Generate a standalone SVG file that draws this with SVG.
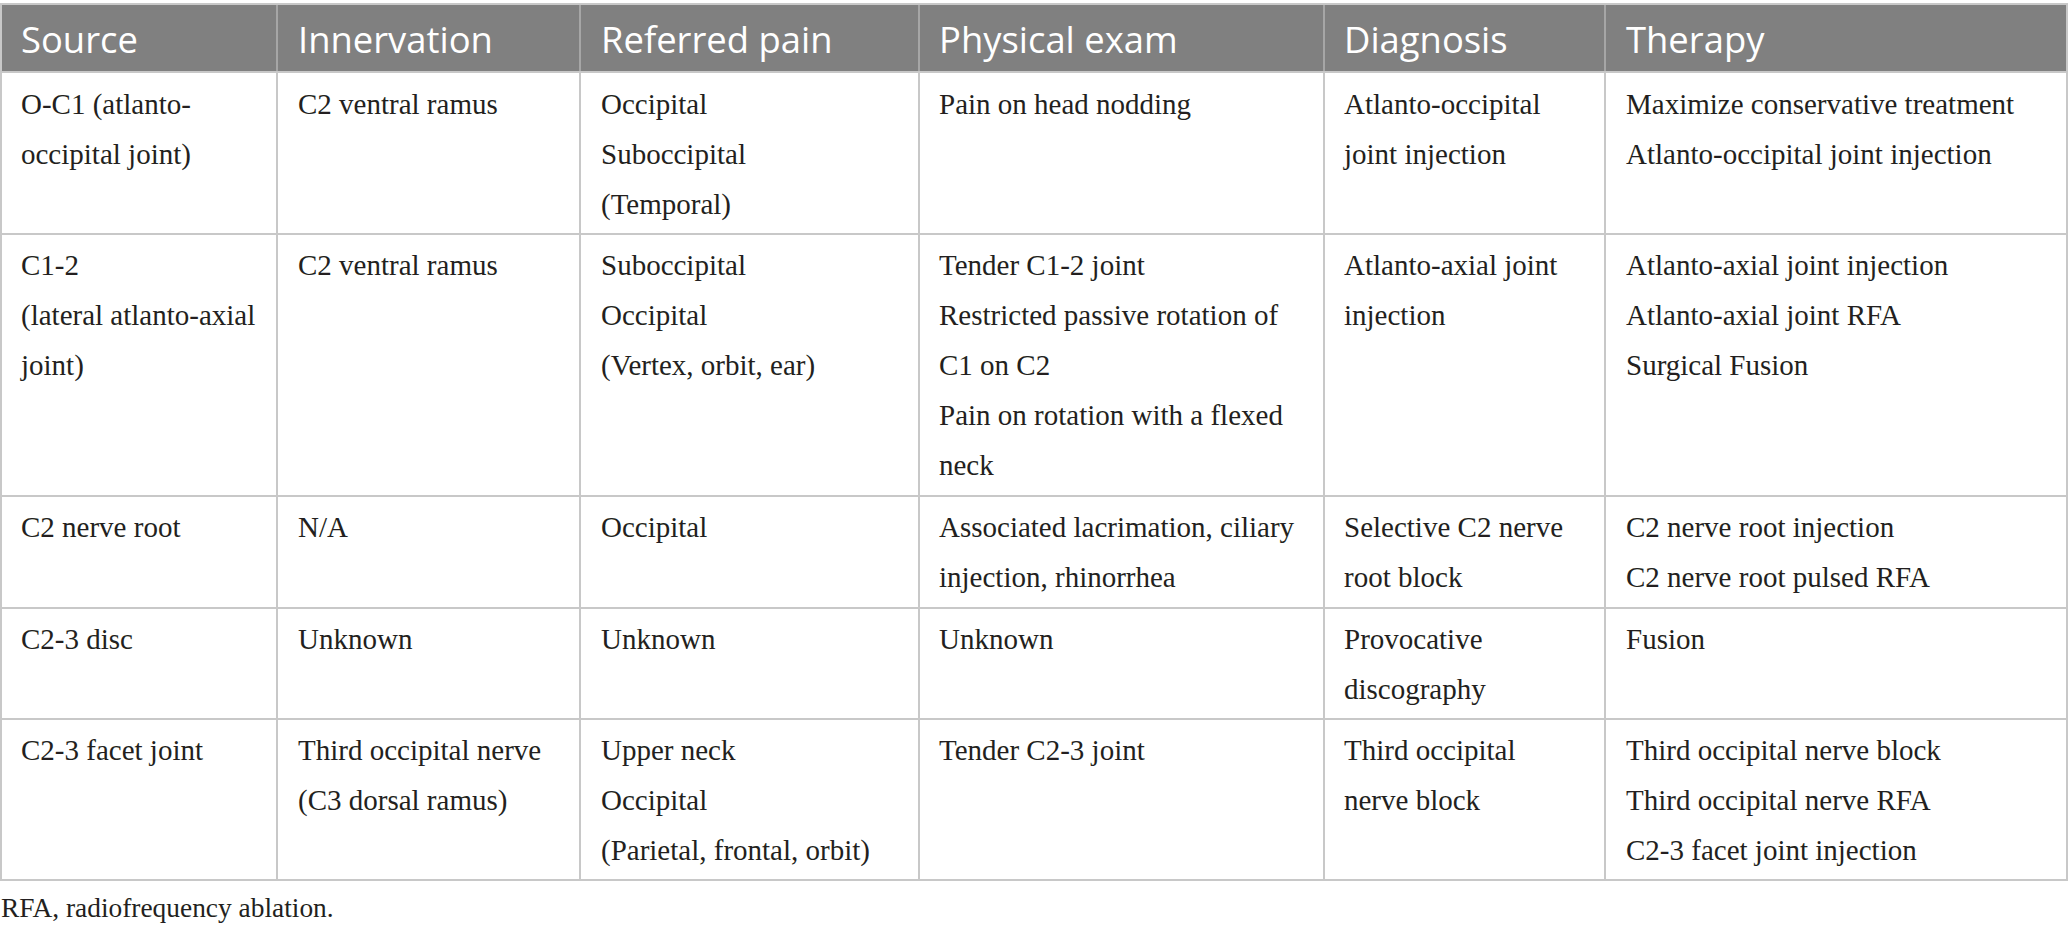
<svg xmlns="http://www.w3.org/2000/svg" width="2068" height="932" viewBox="0 0 2068 932">
<style>
.hd{font-family:"Open Sans","Noto Sans",sans-serif;font-size:36.4px;fill:#ffffff}
.tx{font-family:"Liberation Serif","Times New Roman",serif;font-size:29px;fill:#231f20}
.fn{font-family:"Liberation Serif","Times New Roman",serif;font-size:27.4px;fill:#231f20}
.grid{stroke:#c8c8c8;stroke-width:2;fill:none}
.hsep{stroke:#a6a6a6;stroke-width:2}
</style>
<rect x="0" y="0" width="2068" height="932" fill="#ffffff"/>
<g id="header">
<rect x="1" y="4" width="2066" height="68" fill="#808080"/>
<line class="hsep" x1="277" y1="4" x2="277" y2="72"/>
<line class="hsep" x1="580" y1="4" x2="580" y2="72"/>
<line class="hsep" x1="919" y1="4" x2="919" y2="72"/>
<line class="hsep" x1="1324" y1="4" x2="1324" y2="72"/>
<line class="hsep" x1="1605" y1="4" x2="1605" y2="72"/>
<text class="hd" x="21" y="53">Source</text>
<text class="hd" x="298" y="53">Innervation</text>
<text class="hd" x="601" y="53">Referred pain</text>
<text class="hd" x="939" y="53">Physical exam</text>
<text class="hd" x="1344" y="53">Diagnosis</text>
<text class="hd" x="1626" y="53">Therapy</text>
</g>
<g id="grid">
<rect class="grid" x="1" y="4" width="2066" height="876"/>
<line class="grid" x1="1" y1="72" x2="2067" y2="72"/>
<line class="grid" x1="1" y1="234" x2="2067" y2="234"/>
<line class="grid" x1="1" y1="496" x2="2067" y2="496"/>
<line class="grid" x1="1" y1="608" x2="2067" y2="608"/>
<line class="grid" x1="1" y1="719" x2="2067" y2="719"/>
<line class="grid" x1="277" y1="72" x2="277" y2="880"/>
<line class="grid" x1="580" y1="72" x2="580" y2="880"/>
<line class="grid" x1="919" y1="72" x2="919" y2="880"/>
<line class="grid" x1="1324" y1="72" x2="1324" y2="880"/>
<line class="grid" x1="1605" y1="72" x2="1605" y2="880"/>
</g>
<g id="row1">
<text class="tx" x="21" y="114"><tspan x="21">O-C1 (atlanto-</tspan><tspan x="21" dy="50">occipital joint)</tspan></text>
<text class="tx" x="298" y="114">C2 ventral ramus</text>
<text class="tx" x="601" y="114"><tspan x="601">Occipital</tspan><tspan x="601" dy="50">Suboccipital</tspan><tspan x="601" dy="50">(Temporal)</tspan></text>
<text class="tx" x="939" y="114">Pain on head nodding</text>
<text class="tx" x="1344" y="114"><tspan x="1344">Atlanto-occipital</tspan><tspan x="1344" dy="50">joint injection</tspan></text>
<text class="tx" x="1626" y="114"><tspan x="1626">Maximize conservative treatment</tspan><tspan x="1626" dy="50">Atlanto-occipital joint injection</tspan></text>
</g>
<g id="row2">
<text class="tx" x="21" y="275"><tspan x="21">C1-2</tspan><tspan x="21" dy="50">(lateral atlanto-axial</tspan><tspan x="21" dy="50">joint)</tspan></text>
<text class="tx" x="298" y="275">C2 ventral ramus</text>
<text class="tx" x="601" y="275"><tspan x="601">Suboccipital</tspan><tspan x="601" dy="50">Occipital</tspan><tspan x="601" dy="50">(Vertex, orbit, ear)</tspan></text>
<text class="tx" x="939" y="275"><tspan x="939">Tender C1-2 joint</tspan><tspan x="939" dy="50">Restricted passive rotation of</tspan><tspan x="939" dy="50">C1 on C2</tspan><tspan x="939" dy="50">Pain on rotation with a flexed</tspan><tspan x="939" dy="50">neck</tspan></text>
<text class="tx" x="1344" y="275"><tspan x="1344">Atlanto-axial joint</tspan><tspan x="1344" dy="50">injection</tspan></text>
<text class="tx" x="1626" y="275"><tspan x="1626">Atlanto-axial joint injection</tspan><tspan x="1626" dy="50">Atlanto-axial joint RFA</tspan><tspan x="1626" dy="50">Surgical Fusion</tspan></text>
</g>
<g id="row3">
<text class="tx" x="21" y="537">C2 nerve root</text>
<text class="tx" x="298" y="537">N/A</text>
<text class="tx" x="601" y="537">Occipital</text>
<text class="tx" x="939" y="537"><tspan x="939">Associated lacrimation, ciliary</tspan><tspan x="939" dy="50">injection, rhinorrhea</tspan></text>
<text class="tx" x="1344" y="537"><tspan x="1344">Selective C2 nerve</tspan><tspan x="1344" dy="50">root block</tspan></text>
<text class="tx" x="1626" y="537"><tspan x="1626">C2 nerve root injection</tspan><tspan x="1626" dy="50">C2 nerve root pulsed RFA</tspan></text>
</g>
<g id="row4">
<text class="tx" x="21" y="649">C2-3 disc</text>
<text class="tx" x="298" y="649">Unknown</text>
<text class="tx" x="601" y="649">Unknown</text>
<text class="tx" x="939" y="649">Unknown</text>
<text class="tx" x="1344" y="649"><tspan x="1344">Provocative</tspan><tspan x="1344" dy="50">discography</tspan></text>
<text class="tx" x="1626" y="649">Fusion</text>
</g>
<g id="row5">
<text class="tx" x="21" y="760">C2-3 facet joint</text>
<text class="tx" x="298" y="760"><tspan x="298">Third occipital nerve</tspan><tspan x="298" dy="50">(C3 dorsal ramus)</tspan></text>
<text class="tx" x="601" y="760"><tspan x="601">Upper neck</tspan><tspan x="601" dy="50">Occipital</tspan><tspan x="601" dy="50">(Parietal, frontal, orbit)</tspan></text>
<text class="tx" x="939" y="760">Tender C2-3 joint</text>
<text class="tx" x="1344" y="760"><tspan x="1344">Third occipital</tspan><tspan x="1344" dy="50">nerve block</tspan></text>
<text class="tx" x="1626" y="760"><tspan x="1626">Third occipital nerve block</tspan><tspan x="1626" dy="50">Third occipital nerve RFA</tspan><tspan x="1626" dy="50">C2-3 facet joint injection</tspan></text>
</g>
<g id="footnote">
<text class="fn" x="1" y="917">RFA, radiofrequency ablation.</text>
</g>
</svg>
